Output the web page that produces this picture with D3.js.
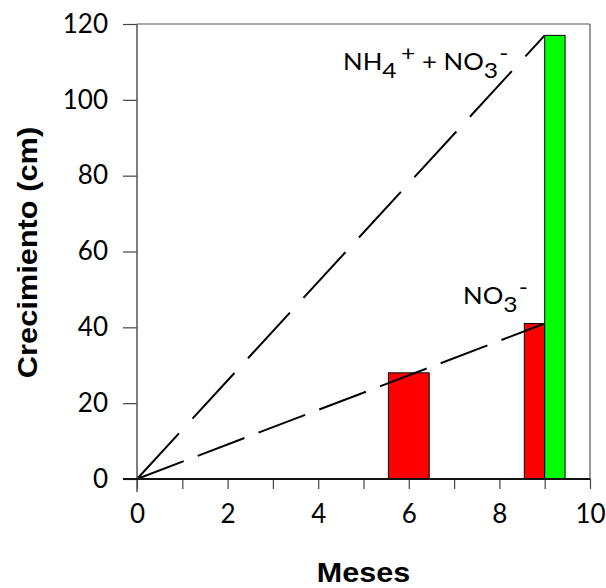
<!DOCTYPE html>
<html>
<head>
<meta charset="utf-8">
<script src="https://cdn.jsdelivr.net/npm/d3@7"></script>
<style>
  body { margin: 0; background: #fff; }
  .tick text { font-family: Lato, "Open Sans", sans-serif; font-size: 26px; fill: #000; }
</style>
</head>
<body>
<div id="chart"></div>
<script>
// data
var months = [6, 9];
var no3 = [28, 41];            // NO3- bars
var nh4no3 = [null, 117];      // NH4+ + NO3- bars
var lineMonths = [0, 9];
var lineNH4NO3 = [0, 117];
var lineNO3 = [0, 41];
var xTicks = [0, 1, 2, 3, 4, 5, 6, 7, 8, 9, 10];
var yTicks = [0, 20, 40, 60, 80, 100, 120];

var margin = { top: 24, left: 137, right: 16, bottom: 109 },
    width = 606 - margin.left - margin.right,
    height = 588 - margin.top - margin.bottom;

var svg = d3.select("#chart")
    .append("svg")
    .attr("width", 606)
    .attr("height", 588);

var container = svg.append("g")
    .attr("transform", "translate(" + margin.left + "," + margin.top + ")");

var x = d3.scaleLinear().domain([0, 10]).range([0, width]);
var y = d3.scaleLinear().domain([0, 120]).range([height, 0]);

// frame (top and right)
container.append("line")
    .attr("x1", 0).attr("x2", width).attr("y1", 0).attr("y2", 0)
    .attr("stroke", "#555").attr("stroke-width", 1.2);
container.append("line")
    .attr("x1", width).attr("x2", width).attr("y1", 0).attr("y2", height)
    .attr("stroke", "#555").attr("stroke-width", 1.2);

// bars: each month gets a slot of 0.9 months, split between the series present
var slot = 0.9;
var bars = [];
months.forEach(function(m, i) {
  var vals = [];
  if (no3[i] != null) vals.push({ v: no3[i], color: "#ff0000" });
  if (nh4no3[i] != null) vals.push({ v: nh4no3[i], color: "#00ff00" });
  var w = slot / vals.length;
  vals.forEach(function(d, j) {
    bars.push({ x0: m - slot / 2 + j * w, x1: m - slot / 2 + (j + 1) * w, v: d.v, color: d.color });
  });
});

container.selectAll("rect.bar")
    .data(bars)
    .enter().append("rect")
    .attr("class", "bar")
    .attr("x", function(d) { return x(d.x0); })
    .attr("width", function(d) { return x(d.x1) - x(d.x0); })
    .attr("y", function(d) { return y(d.v); })
    .attr("height", function(d) { return y(0) - y(d.v); })
    .attr("fill", function(d) { return d.color; })
    .attr("stroke", "#000")
    .attr("stroke-width", 1);

// dashed trend lines
var line = d3.line()
    .x(function(d) { return x(d[0]); })
    .y(function(d) { return y(d[1]); });

container.append("path")
    .datum(d3.zip(lineMonths, lineNH4NO3))
    .attr("d", line)
    .attr("fill", "none")
    .attr("stroke", "#000")
    .attr("stroke-width", 2)
    .attr("stroke-dasharray", "62,20");

container.append("path")
    .datum(d3.zip(lineMonths, lineNO3))
    .attr("d", line)
    .attr("fill", "none")
    .attr("stroke", "#000")
    .attr("stroke-width", 2)
    .attr("stroke-dasharray", "50,15");

// axes
var xAxis = d3.axisBottom(x)
    .tickValues(xTicks)
    .tickSize(10)
    .tickSizeOuter(0)
    .tickPadding(16)
    .tickFormat(function(d) { return d % 2 === 0 ? d : ""; });

var gx = container.append("g")
    .attr("transform", "translate(0," + height + ")")
    .call(xAxis);
gx.select(".domain").remove();
gx.selectAll(".tick line").attr("stroke", "#444").attr("stroke-width", 1.2);

var yAxis = d3.axisLeft(y)
    .tickValues(yTicks)
    .tickSize(14)
    .tickSizeOuter(0)
    .tickPadding(15);

var gy = container.append("g").call(yAxis);
gy.select(".domain").remove();
gy.selectAll(".tick line").attr("stroke", "#444").attr("stroke-width", 1.2);

// axis lines
container.append("line")
    .attr("x1", 0).attr("x2", 0).attr("y1", 0).attr("y2", height + 13)
    .attr("stroke", "#555").attr("stroke-width", 1.5);
container.append("line")
    .attr("x1", -14).attr("x2", width).attr("y1", height).attr("y2", height)
    .attr("stroke", "#111").attr("stroke-width", 2.2);

// axis titles (slightly widened like the original)
svg.append("text")
    .text("Meses")
    .attr("transform", "translate(" + (margin.left + width / 2) + ",582) scale(1.13,1)")
    .attr("text-anchor", "middle")
    .attr("font-family", "'Liberation Sans', Arial, sans-serif")
    .attr("font-weight", "bold")
    .attr("font-size", "27px");

svg.append("text")
    .text("Crecimiento (cm)")
    .attr("transform", "translate(37," + (margin.top + height / 2 + 1) + ") rotate(-90) scale(1.14,1)")
    .attr("text-anchor", "middle")
    .attr("font-family", "'Liberation Sans', Arial, sans-serif")
    .attr("font-weight", "bold")
    .attr("font-size", "27px");

// series labels
var labFont = "Lato, 'Open Sans', sans-serif";
var lab1 = svg.append("text")
    .attr("transform", "translate(343,70) scale(1.12,1)")
    .attr("font-family", labFont)
    .attr("font-size", "23px");
lab1.append("tspan").text("NH");
lab1.append("tspan").text("4").attr("dy", 8).attr("font-size", "22px");
lab1.append("tspan").text("+").attr("dx", 4).attr("dy", -17).attr("font-size", "22px");
lab1.append("tspan").text(" + NO").attr("dy", 9);
lab1.append("tspan").text("3").attr("dy", 8).attr("font-size", "22px");
lab1.append("tspan").text("-").attr("dx", 1).attr("dy", -17).attr("font-size", "22px");

var lab2 = svg.append("text")
    .attr("transform", "translate(463,304) scale(1.12,1)")
    .attr("font-family", labFont)
    .attr("font-size", "23px");
lab2.append("tspan").text("NO");
lab2.append("tspan").text("3").attr("dy", 8).attr("font-size", "22px");
lab2.append("tspan").text("-").attr("dx", 1).attr("dy", -17).attr("font-size", "22px");
</script>
</body>
</html>
